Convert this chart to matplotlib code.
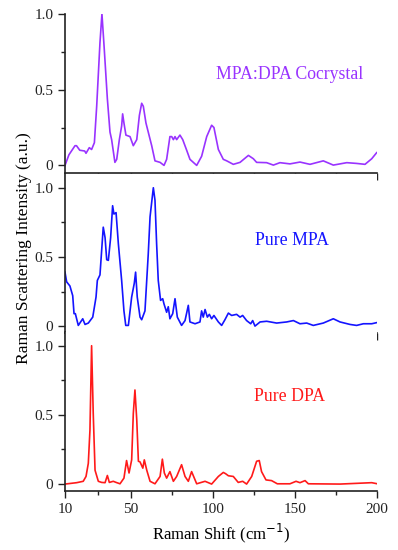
import matplotlib.pyplot as plt
from matplotlib.ticker import MultipleLocator, FixedLocator

plt.rcParams['font.family'] = ['Liberation Serif', 'DejaVu Serif']

# MPA:DPA cocrystal (purple)
co_x = [10, 12.4, 16.1, 17, 19, 22, 22.8, 24.8, 26.2, 27.9, 29.3, 31.3, 32.5, 33.9, 35.8,
        37.4, 38.4, 40.4, 41.5, 43.1, 44.5, 45.1, 45.9, 47.1, 49.6, 51.6, 53.7, 55.3, 56.7,
        57.7, 59.3, 60.7, 62.8, 64.8, 67.9, 70.3, 71.9, 73.9, 75, 76, 77, 78, 80, 81.7, 84.1,
        86.1, 90.2, 93.2, 96.3, 99.3, 100.7, 103.4, 106.4, 108.5, 112.5, 116.6, 121.7, 124.7,
        126.7, 132.8, 136.9, 140.9, 147, 153.1, 159.2, 167.3, 173.4, 181.6, 187.6, 192.7,
        196.8, 199.8]
co_y = [0.0, 0.07, 0.13, 0.13, 0.10, 0.095, 0.08, 0.117, 0.105, 0.15, 0.39, 0.81, 1.0, 0.77,
        0.44, 0.22, 0.17, 0.02, 0.04, 0.17, 0.26, 0.34, 0.28, 0.20, 0.19, 0.13, 0.17, 0.33,
        0.41, 0.39, 0.28, 0.22, 0.13, 0.03, 0.02, 0.0, 0.04, 0.19, 0.19, 0.17, 0.19, 0.17, 0.20,
        0.17, 0.10, 0.04, 0.0, 0.06, 0.19, 0.265, 0.25, 0.105, 0.04, 0.03, 0.007, 0.02, 0.066,
        0.044, 0.02, 0.018, 0.002, 0.018, 0.01, 0.022, 0.007, 0.03, 0.002, 0.018, 0.013,
        0.007, 0.044, 0.084]

# Pure MPA (blue)
mpa_x = [10, 11, 13, 14.7, 15.5, 16.3, 18.1, 20.8, 22.2, 24.2, 26.9, 28.9, 29.7, 31.3, 33.3,
         34.4, 35.4, 36.4, 37.8, 39, 39.8, 41.1, 42.5, 44.5, 45.9, 47, 48.6, 50.6, 52.2, 53,
         54, 55.7, 56.7, 58.7, 60.7, 61.8, 63.8, 64.8, 65.8, 66.8, 68.2, 69.5, 70.3, 71.9,
         72.9, 73.9, 75.6, 77, 78.4, 81, 83.1, 85.1, 86.1, 89.2, 92.2, 93.2, 94.2, 95.3, 96.7,
         97.9, 99.3, 100.7, 103.4, 105.4, 107.4, 109.5, 111.5, 114.5, 116.6, 118.2, 120.6,
         123.1, 124.3, 125.7, 128.8, 132.8, 138.9, 145, 149.1, 153.1, 157.2, 161.2, 167.3,
         173.4, 177.5, 183.6, 187.6, 191.7, 196.8, 199.8]
mpa_y = [0.39, 0.32, 0.29, 0.22, 0.09, 0.09, 0.005, 0.053, 0.012, 0.022, 0.065, 0.21, 0.33,
         0.37, 0.715, 0.64, 0.48, 0.475, 0.64, 0.87, 0.81, 0.82, 0.595, 0.33, 0.11, 0.005,
         0.005, 0.21, 0.31, 0.39, 0.21, 0.065, 0.046, 0.11, 0.52, 0.79, 1.0, 0.91, 0.595, 0.33,
         0.186, 0.198, 0.16, 0.10, 0.14, 0.053, 0.09, 0.198, 0.065, 0.005, 0.04, 0.15, 0.03,
         0.017, 0.03, 0.11, 0.065, 0.12, 0.065, 0.085, 0.053, 0.077, 0.03, 0.005, 0.046, 0.094,
         0.077, 0.085, 0.065, 0.077, 0.04, 0.017, 0.04, 0.0, 0.03, 0.035, 0.022, 0.03, 0.04,
         0.017, 0.022, 0.005, 0.022, 0.053, 0.03, 0.012, 0.005, 0.017, 0.017, 0.025]

# Pure DPA (red)
dpa_x = [10, 17.1, 21.1, 22.8, 24.2, 25.2, 26.2, 27.2, 28.3, 30.3, 32.3, 34.4, 35.8, 37, 39.4,
         41.1, 43.5, 45.9, 47.5, 49, 50.6, 51.6, 52.6, 53.7, 54.7, 55.7, 57.4, 58.3, 59.8,
         61.8, 64.8, 67.9, 69.3, 70.5, 71.9, 73.9, 76, 78, 81, 83.1, 85.1, 87.1, 90.2, 95.3,
         99.3, 103.4, 106.4, 107.8, 109.5, 112.5, 115.5, 118.2, 120.6, 123.7, 126.7, 128.3,
         129.7, 132.4, 135.8, 139.3, 147, 150.7, 153.1, 156.2, 158.2, 177.5, 196.8, 199.8]
dpa_y = [0.0, 0.01, 0.02, 0.055, 0.15, 0.39, 1.0, 0.51, 0.10, 0.02, 0.012, 0.01, 0.062, 0.012,
         0.02, 0.012, 0.002, 0.043, 0.17, 0.08, 0.175, 0.51, 0.68, 0.465, 0.165, 0.16, 0.115,
         0.175, 0.10, 0.02, 0.002, 0.055, 0.18, 0.08, 0.043, 0.09, 0.02, 0.055, 0.14, 0.055,
         0.02, 0.09, 0.002, 0.02, 0.0, 0.055, 0.084, 0.075, 0.06, 0.055, 0.012, 0.02, 0.0,
         0.055, 0.165, 0.17, 0.09, 0.03, 0.025, 0.002, 0.002, 0.02, 0.01, 0.025, 0.002, 0.0,
         0.01, 0.003]

panels = [
    (co_x, co_y, '#9933FF', 'MPA:DPA Cocrystal', (-0.05, 1.0), 0.6855, (0.72, 0.62)),
    (mpa_x, mpa_y, '#1414FF', 'Pure MPA', (-0.05, 1.1), 0.3945, (0.728, 0.58)),
    (dpa_x, dpa_y, '#FF1A1A', 'Pure DPA', (-0.05, 1.1), 0.1073, (0.72, 0.595)),
]

fig = plt.figure(figsize=(3.98, 5.5), dpi=100)
axes = []
for i, (x, y, color, name, ylim, bottom, tpos) in enumerate(panels):
    ax = fig.add_axes([0.1633, bottom, 0.7839, 0.2893])
    ax.plot(x, y, color=color, lw=1.2)
    ax.set_xlim(10, 200)
    ax.set_ylim(*ylim)
    ax.spines['top'].set_visible(False)
    ax.spines['right'].set_visible(False)
    ax.xaxis.set_major_locator(FixedLocator([10, 50, 100, 150, 200]))
    ax.xaxis.set_minor_locator(FixedLocator([30, 75, 125, 175]))
    ax.yaxis.set_major_locator(FixedLocator([0, 0.5, 1.0]))
    ax.yaxis.set_minor_locator(MultipleLocator(0.25))
    ax.set_yticklabels(['0', '0.5', '1.0'])
    ax.tick_params(which='major', length=5, width=1, labelsize=11, colors='#222222')
    ax.tick_params(which='minor', length=3, width=1, colors='#222222')
    for s in ax.spines.values():
        s.set_linewidth(1.2)
        s.set_color('#222222')
    if i < 2:
        ax.tick_params(axis='x', labelbottom=False)
    ax.text(tpos[0], tpos[1], name, color=color, fontsize=12.8,
            transform=ax.transAxes, ha='center', va='center')
    axes.append(ax)

axes[2].set_xlabel('Raman Shift (cm$^{-1}$)', fontsize=12)
fig.text(0.06, 0.549, 'Raman Scattering Intensity (a.u.)', rotation=90,
         ha='center', va='center', fontsize=12.6)

fig.savefig('out.png', dpi=100)
